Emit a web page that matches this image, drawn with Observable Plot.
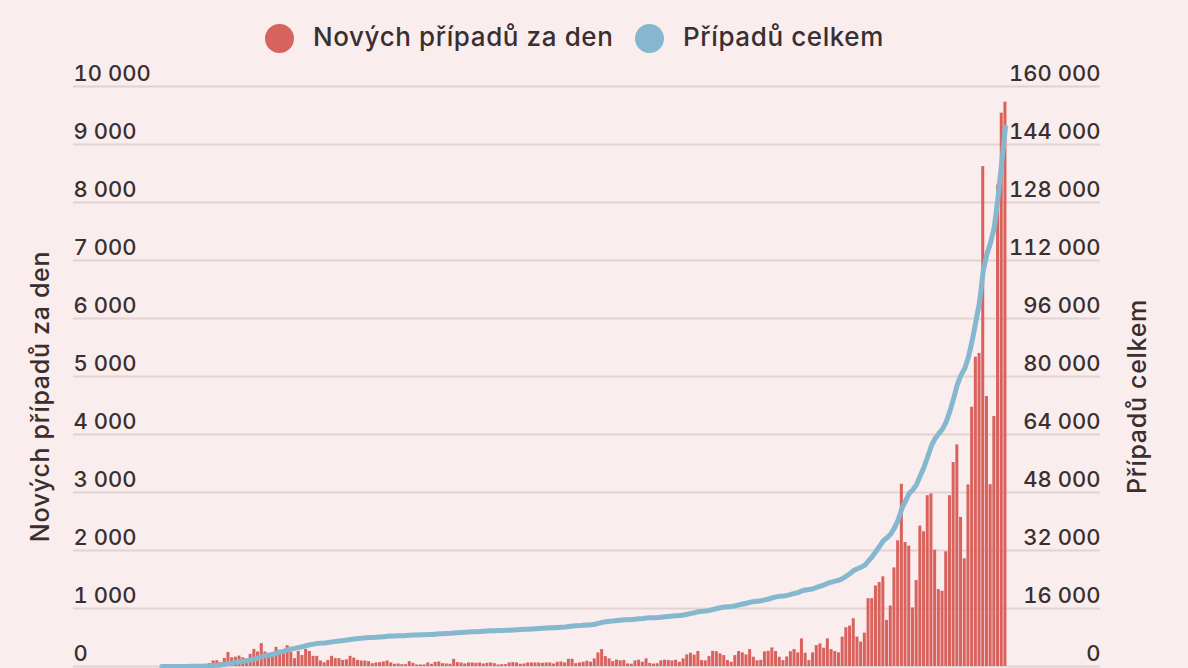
<!DOCTYPE html>
<html><head><meta charset="utf-8">
<script src="https://cdn.jsdelivr.net/npm/d3@7"></script>
<script src="https://cdn.jsdelivr.net/npm/@observablehq/plot@0.6"></script>
<style>
html,body{margin:0;padding:0;background:#f9eded;}
body{width:1188px;height:668px;overflow:hidden;font-family:Inter,"Noto Sans",sans-serif;color:#3a2f2f;}
#legend{position:relative;height:54px;}
.dot{position:absolute;width:29px;height:29px;border-radius:50%;top:23.5px;}
.lab{position:absolute;top:24px;font-size:26px;font-weight:500;letter-spacing:0.6px;white-space:nowrap;line-height:1;}
#chart svg{display:block;}
</style></head><body>
<div id="legend"></div>
<div id="chart"></div>
<script>
// daily new cases, 1 March – 15 October 2020
const march = [3,0,2,0,3,7,7,5,11,14,26,23,31,50,95,100,65,140,240,150,160,180,150,130,210,295,250,395,250,190,190];
const april = [330,280,270,360,250,135,260,190,295,260,175,175,95,65,105,175,135,135,105,115,175,145,105,95,95,84,49,61,67,78];
const may = [95,61,38,44,32,32,84,55,27,27,27,61,38,72,78,49,44,38,124,67,61,44,61,61,55,61,44,55,61,49,27];
const june = [32,32,61,67,61,38,44,61,61,61,61,55,61,61,44,72,78,61,124,124,49,61,73,91,73,131,235,292,171,131];
const july = [85,110,98,104,45,40,95,108,73,131,52,41,47,98,110,104,96,107,73,131,200,229,196,258,102,96,171,262,255,217,188];
const august = [102,73,188,258,235,200,292,160,98,106,252,262,320,258,160,102,165,255,292,235,476,229,102,235,361,390,315,476,292,258,235];
const september = [507,669,697,824,507,421,576,1170,1170,1389,1447,1545,795,1043,1700,2167,3141,2138,2075,1009,1481,2421,2323,2945,2974,2006,1326,1297,1977,2945];
const october = [3516,3821,2571,1856,3130,4470,5333,5397,8619,4655,3135,4310,8300,9540,9730];

const seriesNames = ["Nových případů za den", "Případů celkem"];
const seriesColors = ["#d6635e", "#85b8ce"];
const leftTicks = [0,1000,2000,3000,4000,5000,6000,7000,8000,9000,10000];
const rightTicks = [0,16000,32000,48000,64000,80000,96000,112000,128000,144000,160000];

const daily = [...march, ...april, ...may, ...june, ...july, ...august, ...september, ...october];
const cumulative = Array.from(d3.cumsum(daily));
const DAY = 864e5;
const start = Date.UTC(2020, 2, 1);
const data = daily.map((v, i) => ({
  date: new Date(start + i * DAY),
  next: new Date(start + (i + 1) * DAY),
  mid: new Date(start + (i + 0.5) * DAY),
  value: v,
  cum: cumulative[i]
}));
const ratio = rightTicks[rightTicks.length - 1] / leftTicks[leftTicks.length - 1];
const fmt = d3.formatLocale({decimal: ",", thousands: "\u00a0", grouping: [3], currency: ["", ""]}).format(",d");

// legend
const legend = document.getElementById("legend");
const legendPos = [[264.5, 313], [634.5, 683]];
seriesNames.forEach((name, i) => {
  const dot = document.createElement("span");
  dot.className = "dot"; dot.style.left = legendPos[i][0] + "px"; dot.style.background = seriesColors[i];
  const lab = document.createElement("span");
  lab.className = "lab"; lab.style.left = legendPos[i][1] + "px"; lab.textContent = name;
  legend.append(dot, lab);
});

const textColor = "#3a2f2f";
const chart = Plot.plot({
  width: 1188,
  height: 614,
  marginLeft: 73,
  marginRight: 88,
  marginTop: 32,
  marginBottom: 2,
  style: {background: "transparent", fontFamily: "Inter, 'Noto Sans', sans-serif", color: textColor, fontWeight: 500},
  x: {type: "utc", domain: [new Date(start), new Date(start + daily.length * DAY)], range: [159.5, 1006.8], axis: null},
  y: {domain: [0, 10000], axis: null},
  marks: [
    Plot.ruleY(leftTicks, {stroke: "#e2d3d3", strokeWidth: 1.8}),
    Plot.axisY({anchor: "left", ticks: leftTicks, tickSize: 0, tickPadding: 0, textAnchor: "start", lineAnchor: "bottom", dy: -6, fontSize: 22, fill: textColor, tickFormat: fmt, label: null}),
    Plot.axisY({anchor: "right", ticks: leftTicks, tickSize: 0, tickPadding: 0, textAnchor: "end", lineAnchor: "bottom", dy: -6, fontSize: 22, fill: textColor, tickFormat: d => fmt(d * ratio), label: null}),
    Plot.text([seriesNames[0]], {frameAnchor: "left", text: d => d, rotate: -90, textAnchor: "middle", dx: -33, dy: 20, fontSize: 25, fill: textColor}),
    Plot.text([seriesNames[1]], {frameAnchor: "right", text: d => d, rotate: -90, textAnchor: "middle", dx: 37, dy: 20, fontSize: 25, fill: textColor}),
    Plot.rectY(data, {x1: "date", x2: "next", y: "value", fill: "#d9625d", insetLeft: 0.35, insetRight: 0.35}),
    Plot.line(data, {x: "mid", y: d => d.cum / ratio, stroke: seriesColors[1], strokeWidth: 5, strokeLinejoin: "round", strokeLinecap: "round"})
  ]
});
chart.querySelectorAll("text").forEach(t => { if (t.textContent === seriesNames[0] || t.textContent === seriesNames[1]) t.setAttribute("letter-spacing", "0.7"); });
document.getElementById("chart").append(chart);
</script>
</body></html>
